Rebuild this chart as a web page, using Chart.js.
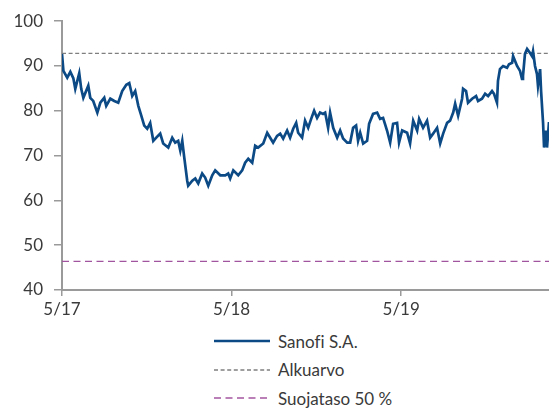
<!DOCTYPE html>
<html>
<head>
<meta charset="utf-8">
<script src="https://cdn.jsdelivr.net/npm/chart.js@4/dist/chart.umd.min.js"></script>
<style>
    body { margin: 0; background: #fff; font-family: Lato, sans-serif; color: #3a3a3a; }
    #wrap { position: relative; width: 549px; height: 408px; }
    #chart { position: absolute; left: 0; top: 0; }
    .legend { position: absolute; left: 214px; top: 327px; font-size: 17px; font-variant-ligatures: none; }
    .row { height: 28.5px; display: flex; align-items: center; }
    .row svg { margin-right: 6px; }
</style>
</head>
<body>
<div id="wrap">
    <canvas id="chart" width="549" height="325"></canvas>
    <div class="legend" id="legend"></div>
</div>
<script>
// x = months since May 2017
const months = [
    0, 0.1, 0.37, 0.59, 0.8, 0.94, 1.22, 1.36, 1.51, 1.86, 2.0, 2.21, 2.5, 2.71, 2.99, 3.13, 3.42, 3.7, 3.98,
    4.26, 4.55, 4.76, 4.97, 5.18, 5.4, 5.61, 5.82, 6.03, 6.24, 6.46, 6.67, 6.95, 7.16, 7.52, 7.8, 8.01, 8.22,
    8.37, 8.51, 8.65, 8.86, 8.93, 9.22, 9.43, 9.64, 9.92, 10.13, 10.35, 10.63, 10.84, 11.2, 11.55, 11.76, 11.9,
    12.12, 12.47, 12.75, 12.96, 13.18, 13.46, 13.67, 13.88, 14.24, 14.52, 14.73, 14.94, 15.22, 15.44, 15.65,
    15.93, 16.14, 16.36, 16.57, 16.71, 16.99, 17.2, 17.42, 17.63, 17.84, 18.05, 18.26, 18.47, 18.62, 18.83,
    18.97, 19.19, 19.47, 19.68, 19.89, 20.18, 20.39, 20.6, 20.81, 20.95, 21.1, 21.31, 21.59, 21.73, 22.01,
    22.3, 22.51, 22.72, 23.0, 23.22, 23.43, 23.71, 23.85, 24.07, 24.42, 24.63, 24.85, 25.13, 25.27, 25.55,
    25.83, 26.05, 26.26, 26.54, 26.76, 26.97, 27.25, 27.46, 27.68, 27.82, 28.03, 28.31, 28.38, 28.59, 28.73,
    29.02, 29.3, 29.44, 29.72, 29.94, 30.15, 30.43, 30.57, 30.78, 30.85, 30.99, 31.21, 31.49, 31.63, 31.85,
    31.92, 32.2, 32.41, 32.55, 32.62, 32.76, 32.91, 33.12, 33.26, 33.33, 33.47, 33.61, 33.68, 33.83, 33.9,
    34.04, 34.11, 34.25, 34.32, 34.46
];
const sanofi = [
    92.7, 88.9, 87.4, 88.7, 87.3, 84.9, 88.4, 84.9, 82.9, 85.6, 82.9, 82.2, 79.6, 81.8, 82.9, 81.1, 82.7, 82.2, 81.8,
    84.4, 85.8, 86.2, 83.3, 84.4, 81.1, 78.9, 76.7, 76.0, 77.3, 73.3, 74.0, 74.9, 72.7, 71.8, 74.0, 72.9, 73.3,
    71.1, 73.3, 69.6, 64.4, 63.3, 64.4, 64.9, 63.8, 66.0, 65.1, 63.3, 65.6, 66.7, 65.6, 65.6, 66.0, 64.9,
    66.7, 65.6, 66.7, 68.4, 69.3, 68.4, 72.2, 71.8, 72.7, 75.1, 74.0, 72.9, 74.4, 74.9, 73.8,
    75.6, 74.0, 76.0, 77.3, 75.1, 74.0, 77.8, 76.2, 78.2, 80.0, 78.4, 79.6, 79.3, 79.6, 76.2,
    79.6, 76.2, 74.0, 75.6, 73.8, 72.9, 72.9, 76.2, 76.7, 73.3, 75.1, 72.7, 73.3, 77.1, 79.3,
    79.6, 78.2, 78.4, 75.6, 72.9, 77.1, 77.3, 72.9, 75.6, 75.1, 72.7, 77.8, 75.6, 78.2, 76.2,
    77.8, 74.0, 74.9, 76.2, 72.7, 74.9, 77.3, 77.8, 79.6, 81.6, 78.9, 82.7, 84.9, 84.4, 81.8,
    82.7, 83.3, 82.2, 82.7, 83.8, 83.3, 84.4, 83.8, 81.8, 86.7, 89.3, 90.0, 89.6, 90.4, 90.7,
    92.2, 90.0, 88.9, 87.1, 87.8, 92.7, 93.8, 92.9, 92.2, 93.3, 90.0, 88.2, 85.6, 89.3, 84.4,
    77.3, 71.8, 75.6, 71.8, 77.5
];
const alkuarvo = [92.8, 92.8];
const suojataso = [46.4, 46.4];
const levelMonths = [0, 34.46];

const xTicks = [0, 12, 24];
const xTickLabels = ["5/17", "5/18", "5/19"];
const yTicks = [40, 50, 60, 70, 80, 90, 100];

const seriesNames = ["Sanofi S.A.", "Alkuarvo", "Suojataso 50 %"];
const colors = ["#0c4a86", "#7f7f7f", "#a2559f"];
const dashes = [[], [4, 2.6], [7, 4.5]];

const toPoints = (xs, ys) => xs.map((x, i) => ({ x: x, y: ys[i] }));

const axisFont = { family: "Lato, sans-serif", size: 17 };

new Chart(document.getElementById("chart"), {
    type: "line",
    data: {
        datasets: [
            { label: seriesNames[0], data: toPoints(months, sanofi), borderColor: colors[0], borderWidth: 2.7, order: 0 },
            { label: seriesNames[1], data: toPoints(levelMonths, alkuarvo), borderColor: colors[1], borderWidth: 1.3, borderDash: dashes[1], order: 1 },
            { label: seriesNames[2], data: toPoints(levelMonths, suojataso), borderColor: colors[2], borderWidth: 1.3, borderDash: dashes[2], order: 2 }
        ]
    },
    options: {
        responsive: false,
        animation: false,
        layout: { padding: { top: 20, right: 0, left: 0, bottom: 0 } },
        elements: { point: { radius: 0 }, line: { tension: 0 } },
        plugins: { legend: { display: false }, tooltip: { enabled: false } },
        scales: {
            x: {
                type: "linear",
                min: 0,
                max: 34.46,
                afterBuildTicks: scale => { scale.ticks = xTicks.map(v => ({ value: v })); },
                afterFit: scale => { scale.height = 35; },
                ticks: {
                    font: axisFont,
                    color: "#3a3a3a",
                    padding: 3,
                    maxRotation: 0,
                    callback: v => xTickLabels[xTicks.indexOf(v)]
                },
                grid: { drawOnChartArea: false, drawTicks: true, tickLength: 6, color: "#9a9a9a", lineWidth: 1.5 },
                border: { color: "#9a9a9a", width: 2 }
            },
            y: {
                min: 40,
                max: 100,
                afterBuildTicks: scale => { scale.ticks = yTicks.map(v => ({ value: v })); },
                afterFit: scale => { scale.width = 62; },
                ticks: { font: axisFont, color: "#3a3a3a", padding: 11 },
                grid: { drawOnChartArea: false, drawTicks: true, tickLength: 8, color: "#9a9a9a", lineWidth: 1.5 },
                border: { color: "#9a9a9a", width: 2 }
            }
        }
    }
});

// legend below the chart
const legend = document.getElementById("legend");
seriesNames.forEach((name, i) => {
    const row = document.createElement("div");
    row.className = "row";
    const w = i === 0 ? 2.4 : 1.3;
    row.innerHTML = `
        <svg width="58" height="10"><line x1="0" y1="5" x2="56" y2="5" stroke="${colors[i]}"
            stroke-width="${w}" stroke-dasharray="${dashes[i].join(",")}"/></svg>
        <span>${name}</span>`;
    legend.appendChild(row);
});
</script>
</body>
</html>
